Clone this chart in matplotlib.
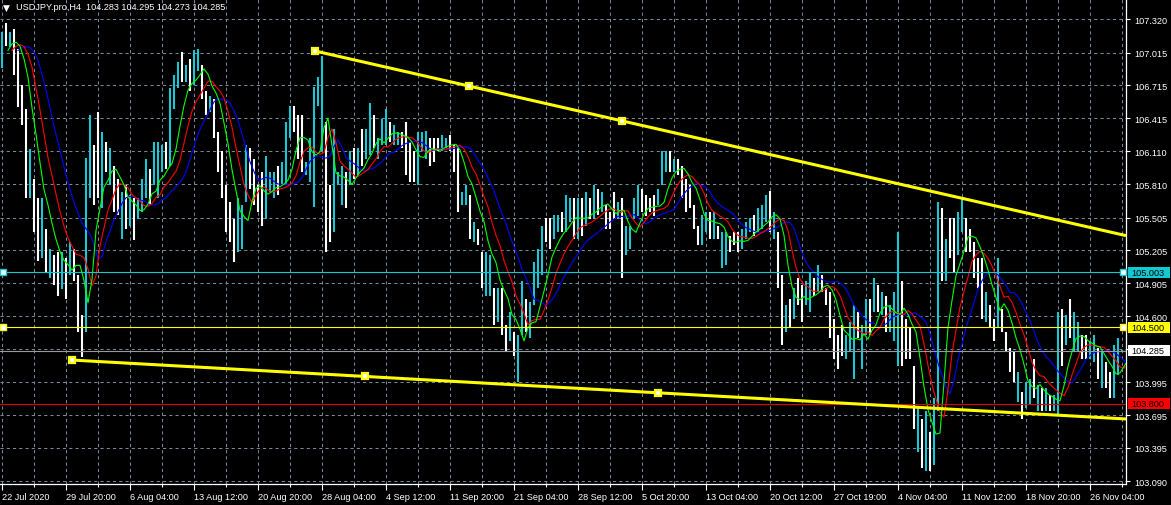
import numpy as np
import pandas as pd
import matplotlib
matplotlib.use("Agg")
import matplotlib.pyplot as plt
from matplotlib import transforms
from matplotlib.patches import Rectangle

# USDJPY.pro H4 -- one entry per drawn bar (high / low)
highs = [
    107.20, 107.29, 107.20, 107.23, 107.05, 106.72, 106.50, 106.13, 105.86, 105.68,
    105.68, 105.40, 105.22, 105.16, 105.19, 105.19, 105.13, 105.28, 105.22, 104.98,
    104.61, 106.05, 106.44, 106.17, 106.47, 106.29, 106.20, 106.14, 105.98, 105.86,
    105.74, 105.80, 105.71, 105.68, 105.68, 105.86, 106.04, 105.95, 106.20, 106.20,
    106.17, 106.20, 106.69, 106.81, 106.93, 107.02, 106.90, 106.96, 107.04, 107.05,
    106.90, 106.66, 106.62, 106.59, 106.29, 106.11, 105.80, 105.65, 105.49, 105.68,
    105.62, 106.17, 106.14, 106.04, 105.80, 105.92, 106.07, 105.92, 105.92, 105.98,
    106.01, 106.38, 106.53, 106.53, 106.44, 106.44, 106.01, 106.23, 106.70, 106.79,
    106.98, 106.38, 105.80, 106.32, 105.92, 105.98, 105.92, 106.11, 106.14, 106.14,
    106.32, 106.32, 106.55, 106.44, 106.23, 106.41, 106.50, 106.38, 106.35, 106.29,
    106.29, 106.38, 106.20, 106.11, 106.29, 106.29, 106.30, 106.23, 106.23, 106.23,
    106.26, 106.23, 106.26, 106.17, 106.14, 105.74, 105.80, 105.71, 105.46, 105.40,
    105.19, 105.19, 105.16, 104.86, 104.86, 104.86, 104.52, 104.64, 104.46, 104.43,
    104.92, 104.76, 104.73, 105.10, 105.22, 105.43, 105.50, 105.50, 105.53, 105.53,
    105.56, 105.71, 105.68, 105.68, 105.68, 105.68, 105.74, 105.68, 105.80, 105.77,
    105.74, 105.62, 105.56, 105.74, 105.65, 105.68, 105.43, 105.43, 105.68, 105.80,
    105.77, 105.71, 105.68, 105.71, 105.77, 106.11, 106.11, 106.11, 106.04, 106.04,
    105.98, 105.86, 105.80, 105.62, 105.43, 105.53, 105.56, 105.56, 105.56, 105.43,
    105.37, 105.37, 105.34, 105.37, 105.37, 105.40, 105.46, 105.50, 105.53, 105.59,
    105.62, 105.71, 105.75, 105.56, 105.37, 104.98, 104.70, 104.76, 104.86, 104.95,
    104.89, 104.92, 105.01, 104.95, 105.07, 104.98, 104.86, 104.82, 104.58, 104.43,
    104.52, 104.43, 104.55, 104.70, 104.64, 104.52, 104.76, 104.76, 104.95, 104.89,
    104.82, 104.79, 104.70, 104.82, 105.37, 104.92, 104.58, 104.49, 104.15, 103.76,
    103.66, 103.73, 103.54, 103.85, 105.65, 105.59, 105.31, 105.50, 105.50, 105.56,
    105.68, 105.50, 105.40, 105.28, 105.13, 105.13, 104.82, 104.70, 104.58, 105.13,
    104.67, 104.46, 104.31, 104.27, 104.09, 103.91, 104.00, 104.03, 104.21, 103.97,
    103.94, 103.94, 103.88, 103.88, 104.64, 104.67, 104.61, 104.76, 104.64, 104.55,
    104.43, 104.43, 104.37, 104.43, 104.31, 104.27, 104.18, 104.09, 104.34, 104.40,
    104.295,
]
lows = [
    106.87, 107.08, 107.07, 106.81, 106.52, 106.35, 105.68, 105.68, 105.37, 105.11,
    105.13, 105.01, 104.95, 104.89, 104.79, 104.85, 104.76, 104.98, 104.92, 104.46,
    104.23, 104.46, 105.68, 105.62, 105.68, 105.59, 105.92, 105.80, 105.56, 105.53,
    105.31, 105.40, 105.43, 105.30, 105.49, 105.56, 105.68, 105.62, 105.80, 105.68,
    105.92, 105.95, 105.98, 106.50, 106.69, 106.75, 106.75, 106.66, 106.72, 106.85,
    106.59, 106.44, 106.47, 106.23, 105.92, 105.68, 105.37, 105.28, 105.10, 105.19,
    105.22, 105.65, 105.77, 105.62, 105.56, 105.43, 105.49, 105.74, 105.68, 105.71,
    105.80, 105.80, 106.23, 106.29, 106.04, 105.92, 105.89, 105.83, 105.60, 106.53,
    106.11, 105.19, 105.28, 105.37, 105.80, 105.62, 105.59, 105.80, 105.86, 105.89,
    105.98, 106.04, 106.08, 106.14, 106.04, 106.17, 106.17, 106.20, 106.17, 106.17,
    106.14, 105.89, 105.83, 105.83, 105.80, 106.11, 106.04, 105.98, 106.01, 106.11,
    106.11, 106.14, 106.11, 105.92, 105.56, 105.62, 105.62, 105.31, 105.28, 105.25,
    104.86, 104.79, 104.79, 104.52, 104.55, 104.43, 104.27, 104.37, 104.24, 104.00,
    104.43, 104.46, 104.40, 104.70, 104.86, 104.98, 105.28, 105.22, 105.31, 105.37,
    105.37, 105.37, 105.46, 105.31, 105.31, 105.34, 105.43, 105.49, 105.49, 105.53,
    105.56, 105.40, 105.40, 105.49, 105.49, 104.95, 105.16, 105.22, 105.49, 105.52,
    105.56, 105.52, 105.56, 105.52, 105.62, 105.80, 105.92, 105.92, 105.92, 105.89,
    105.68, 105.56, 105.59, 105.40, 105.25, 105.25, 105.37, 105.31, 105.31, 105.31,
    105.04, 105.07, 105.19, 105.25, 105.19, 105.22, 105.31, 105.37, 105.34, 105.37,
    105.40, 105.46, 105.37, 105.31, 104.86, 104.34, 104.46, 104.49, 104.58, 104.70,
    104.55, 104.70, 104.64, 104.79, 104.82, 104.82, 104.70, 104.40, 104.21, 104.12,
    104.24, 104.21, 104.27, 104.03, 104.40, 104.12, 104.43, 104.43, 104.64, 104.64,
    104.61, 104.46, 104.46, 104.37, 104.15, 104.15, 104.21, 104.21, 103.57, 103.36,
    103.21, 103.18, 103.18, 103.24, 103.73, 104.92, 104.92, 105.13, 105.01, 105.16,
    105.37, 105.19, 105.19, 104.95, 104.86, 104.58, 104.55, 104.49, 104.37, 104.49,
    104.46, 104.27, 104.09, 104.00, 103.82, 103.66, 103.76, 103.79, 103.85, 103.73,
    103.73, 103.73, 103.73, 103.73, 103.70, 104.15, 104.34, 104.40, 104.27, 104.27,
    104.21, 104.21, 104.21, 104.18, 104.03, 103.94, 103.94, 103.85, 103.85, 104.06,
    104.273,
]
# U = bull bar (cyan), D = bear bar (white)
direction = (
    "UDUDDDDUDD" "UDUDDUDUDD" "DUUDDUDUDD" "UDUDUUUDUU" "UDUUUDUDUU"
    "DDUDDDDDDU" "UUDDDDUUUD" "UUUDDDUUUU" "UDDUUUDUDU" "DUUDUUUDUU"
    "DDDDUUUDDD" "UUDDDUUDUD" "DUUDUDDUDU" "UDUUUUDDUU" "DUUDUDUDUD"
    "UDDDUDUUUU" "DDDDUUUDUD" "DDDDDUUDUD" "UUDDDUUUDU" "UUDUDDUDUD"
    "DUUDUDDDDD" "DUUUDUUDUD" "UDUUUDDDDU" "DUDUUDUDDU" "UDDDDDUDDU"
    "DDDDUDUUDU" "DUDUUDUDUU" "DDUUDUDDUU" "U"
)

x_labels = ["22 Jul 2020", "29 Jul 20:00", "6 Aug 04:00", "13 Aug 12:00", "20 Aug 20:00",
            "28 Aug 04:00", "4 Sep 12:00", "11 Sep 20:00", "21 Sep 04:00", "28 Sep 12:00",
            "5 Oct 20:00", "13 Oct 04:00", "20 Oct 12:00", "27 Oct 19:00", "4 Nov 04:00",
            "11 Nov 12:00", "18 Nov 20:00", "26 Nov 04:00"]
y_labels = ["107.320", "107.015", "106.715", "106.415", "106.110", "105.810", "105.505",
            "105.205", "104.905", "104.600", "104.300", "103.995", "103.695", "103.395",
            "103.090"]

# trend lines: (bar, price) anchors
upper_bars = [78.25, 155.0]
upper_prices = [107.03, 106.39]
lower_bars = [17.5, 164.0]
lower_prices = [104.20, 103.90]

# horizontal levels
levels = [105.003, 104.500, 104.285, 103.800]
level_colors = ["#12C8D2", "#FFFF00", "#9A9A9A", "#E00000"]
level_label_bg = ["#12C8D2", "#FFFF00", "#FFFFFF", "#FF0000"]

title = "USDJPY.pro,H4  104.283 104.295 104.273 104.285"

# Alligator (jaw / teeth / lips): smoothing period and forward shift, in drawn bars
alligator = [(6.5, 4.0, "#0000FF"), (4.0, 2.5, "#FF0000"), (2.5, 1.5, "#00FF00")]

# ---------------------------------------------------------------
plt.rcParams["font.family"] = ["Liberation Sans", "DejaVu Sans"]
FS = 6.6
W, H = 1171, 506

highs = np.array(highs)
lows = np.array(lows)
n = len(highs)
idx = np.arange(n)
is_up = np.array([c == "U" for c in direction])

fig = plt.figure(figsize=(W / 100, H / 100), dpi=100, facecolor="black")
ax = fig.add_axes([0, 21 / H, 1126 / W, 485 / H])
ax.set_facecolor("black")
ax.set_xlim(-0.5, 281.0)
ax.set_ylim(103.065, 107.506)

# grid
grid_prices = [float(s) for s in y_labels]
ax.set_yticks(grid_prices)
# 104.300 sits under the bid price label, as on the terminal
ax.set_yticklabels([s if s != "104.300" else "" for s in y_labels])
ax.set_xticks(np.arange(0, 16 * len(x_labels), 16))
ax.set_xticklabels(x_labels, ha="left")
ax.set_xticks(np.arange(8, 281, 16), minor=True)
grid_kw = dict(color="#778899", linewidth=0.75, linestyle=(0, (3, 3)))
ax.grid(True, which="major", **grid_kw)
ax.grid(True, which="minor", axis="x", **grid_kw)
ax.set_axisbelow(True)

# bars
ax.vlines(idx[is_up], lows[is_up], highs[is_up], color="#1CC6D2", linewidth=1.5, zorder=2)
ax.vlines(idx[~is_up], lows[~is_up], highs[~is_up], color="white", linewidth=1.5, zorder=2)

# alligator lines: smoothed median price, shifted forward
median = pd.Series((highs + lows) / 2)
for period, shift, col in alligator:
    smma = median.ewm(alpha=1 / period, adjust=False).mean()
    ax.plot(idx + shift, smma, color=col, linewidth=0.8, zorder=3)

# horizontal levels
for lv, col in zip(levels, level_colors):
    ax.axhline(lv, color=col, linewidth=0.8, zorder=3)
for lv, col in zip(levels[:2], level_colors[:2]):
    ax.plot([0.3, 280.2], [lv, lv], "s", ms=4, mfc="white", mec=col, mew=1, zorder=5,
            clip_on=False)

# trend lines (rays to the right edge)
for bx, py in [(upper_bars, upper_prices), (lower_bars, lower_prices)]:
    slope = (py[1] - py[0]) / (bx[1] - bx[0])
    x_end = 281.0
    ax.plot([bx[0], x_end], [py[0], py[0] + slope * (x_end - bx[0])],
            color="#FFFF00", linewidth=2.2, zorder=4, solid_capstyle="butt")
    mx = [bx[0], (bx[0] + bx[1]) / 2, bx[1]]
    my = [py[0], (py[0] + py[1]) / 2, py[1]]
    ax.plot(mx, my, "s", ms=5, mfc="white", mec="#FFFF00", mew=1.6, zorder=5)

# axes styling
for s in ["top", "left"]:
    ax.spines[s].set_visible(False)
for s in ["right", "bottom"]:
    ax.spines[s].set_color("white")
    ax.spines[s].set_linewidth(0.9)
ax.yaxis.tick_right()
ax.tick_params(axis="y", colors="white", labelsize=FS, length=3, width=0.8, pad=3)
ax.tick_params(axis="x", which="major", colors="white", labelsize=FS, length=4, width=0.8, pad=2)
ax.tick_params(axis="x", which="minor", colors="white", length=2, width=0.8)

# price labels on the axis
blend = transforms.blended_transform_factory(fig.transFigure, ax.transData)
for lv, bg in zip(levels, level_label_bg):
    fig.add_artist(Rectangle((1128 / W, lv - 0.052), 42 / W, 0.104, transform=blend,
                             facecolor=bg, edgecolor="none", zorder=5))
    fig.text(1131 / W, lv, f"{lv:.3f}", transform=blend, color="black", fontsize=FS,
             va="center", ha="left", zorder=6)

# header
fig.text(3 / W, 1 - 8 / H, "\u25BC", color="white", fontsize=6.5, va="center", ha="left",
         family=["DejaVu Sans"])
fig.text(16 / W, 1 - 8 / H, title, color="white", fontsize=FS, va="center", ha="left")

fig.savefig("out.png", dpi=100, facecolor="black")
